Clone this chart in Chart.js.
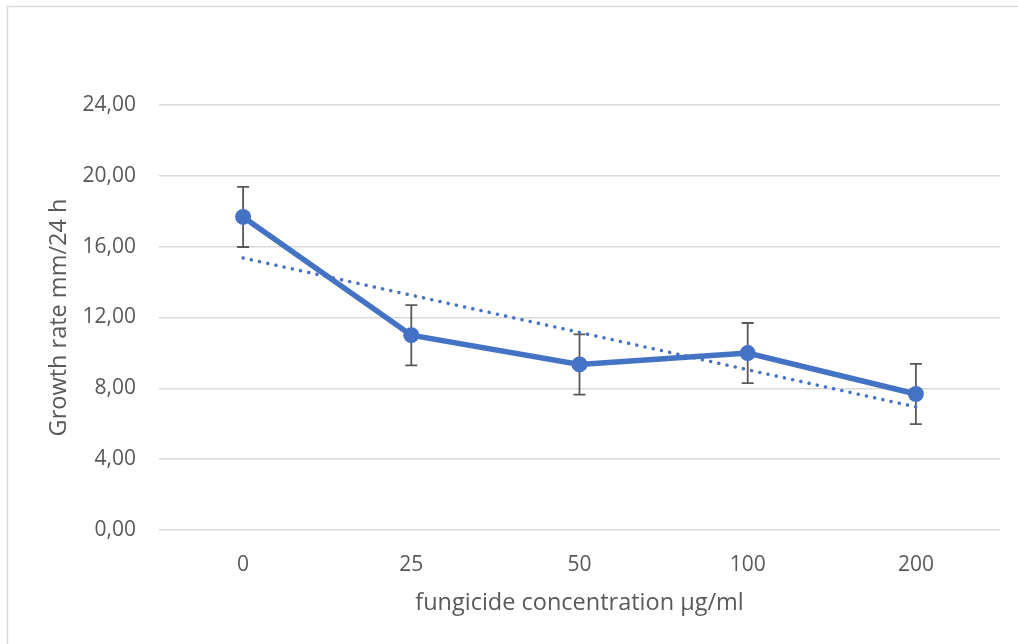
<!DOCTYPE html>
<html>
<head>
<meta charset="utf-8">
<script src="https://cdn.jsdelivr.net/npm/chart.js@4/dist/chart.umd.min.js"></script>
<style>
    html, body { margin: 0; padding: 0; background: #fff; }
    #wrap { width: 1018px; height: 644px; position: relative; }
</style>
</head>
<body>
<div id="wrap"><canvas id="chart"></canvas></div>
<script>
const concentrations = ['0', '25', '50', '100', '200'];
const growthRate = [17.68, 11.0, 9.35, 9.99, 7.68];
const errorSize = [1.7, 1.7, 1.7, 1.7, 1.7];
const trendValues = [15.36, 13.26, 11.16, 9.05, 6.95];
const yTicks = [0, 4, 8, 12, 16, 20, 24];

const blue = '#4472C4';
const grey = '#595959';
const font = "'Open Sans', sans-serif";

// chart frame: only top + left edges are visible in the reference
const frame = {
    id: 'frame',
    beforeDraw: (chart) => {
        const ctx = chart.ctx;
        ctx.save();
        ctx.fillStyle = '#fff';
        ctx.fillRect(0, 0, chart.width, chart.height);
        ctx.strokeStyle = '#d9d9d9';
        ctx.lineWidth = 1.5;
        ctx.strokeRect(7.5, 6.5, chart.width + 20, chart.height + 20);
        ctx.restore();
    },
};

const errorBars = {
    id: 'errorBars',
    beforeDatasetsDraw: (chart) => {
        const { ctx, scales: { x, y } } = chart;
        ctx.save();
        ctx.strokeStyle = grey;
        ctx.lineWidth = 1.8;
        growthRate.forEach((value, i) => {
            const px = x.getPixelForValue(i);
            const top = y.getPixelForValue(value + errorSize[i]);
            const bottom = y.getPixelForValue(value - errorSize[i]);
            ctx.beginPath();
            ctx.moveTo(px, top);
            ctx.lineTo(px, bottom);
            ctx.moveTo(px - 6, top);
            ctx.lineTo(px + 6, top);
            ctx.moveTo(px - 6, bottom);
            ctx.lineTo(px + 6, bottom);
            ctx.stroke();
        });
        ctx.restore();
    },
};

new Chart(document.getElementById('chart'), {
    type: 'line',
    data: {
        labels: concentrations,
        datasets: [
            {
                label: 'Growth rate',
                data: growthRate,
                borderColor: blue,
                backgroundColor: blue,
                borderWidth: 5.5,
                pointRadius: 8,
                pointBorderWidth: 0,
                tension: 0,
                order: 1,
            },
            {
                label: 'Linear trend',
                data: trendValues,
                borderColor: blue,
                borderWidth: 3.5,
                borderDash: [0.1, 8.3],
                borderCapStyle: 'round',
                pointRadius: 0,
                tension: 0,
                order: 0,
            },
        ],
    },
    options: {
        responsive: true,
        maintainAspectRatio: false,
        animation: false,
        layout: { padding: { top: 105, right: 18, left: 0, bottom: 27 } },
        plugins: {
            legend: { display: false },
            tooltip: { enabled: false },
        },
        scales: {
            x: {
                offset: true,
                grid: { display: false },
                border: { display: false },
                ticks: { color: grey, font: { family: font, size: 21 }, padding: 14 },
                title: {
                    display: true,
                    text: 'fungicide concentration µg/ml',
                    color: grey,
                    font: { family: font, size: 23.5 },
                    padding: { top: 0, bottom: 0 },
                },
                afterFit: (scale) => { scale.height = 87; },
            },
            y: {
                min: 0,
                max: 24,
                afterBuildTicks: (scale) => { scale.ticks = yTicks.map((v) => ({ value: v })); },
                grid: { color: '#d9d9d9', lineWidth: 1.5, drawTicks: false },
                border: { display: false },
                ticks: {
                    color: grey,
                    font: { family: font, size: 21 },
                    padding: 23,
                    callback: (value) => value.toFixed(2).replace('.', ','),
                },
                title: {
                    display: true,
                    text: 'Growth rate mm/24 h',
                    color: grey,
                    font: { family: font, size: 23.5 },
                    padding: { top: 45, bottom: 0 },
                },
                afterFit: (scale) => { scale.width = 159; },
            },
        },
    },
    plugins: [frame, errorBars],
});
</script>
</body>
</html>
